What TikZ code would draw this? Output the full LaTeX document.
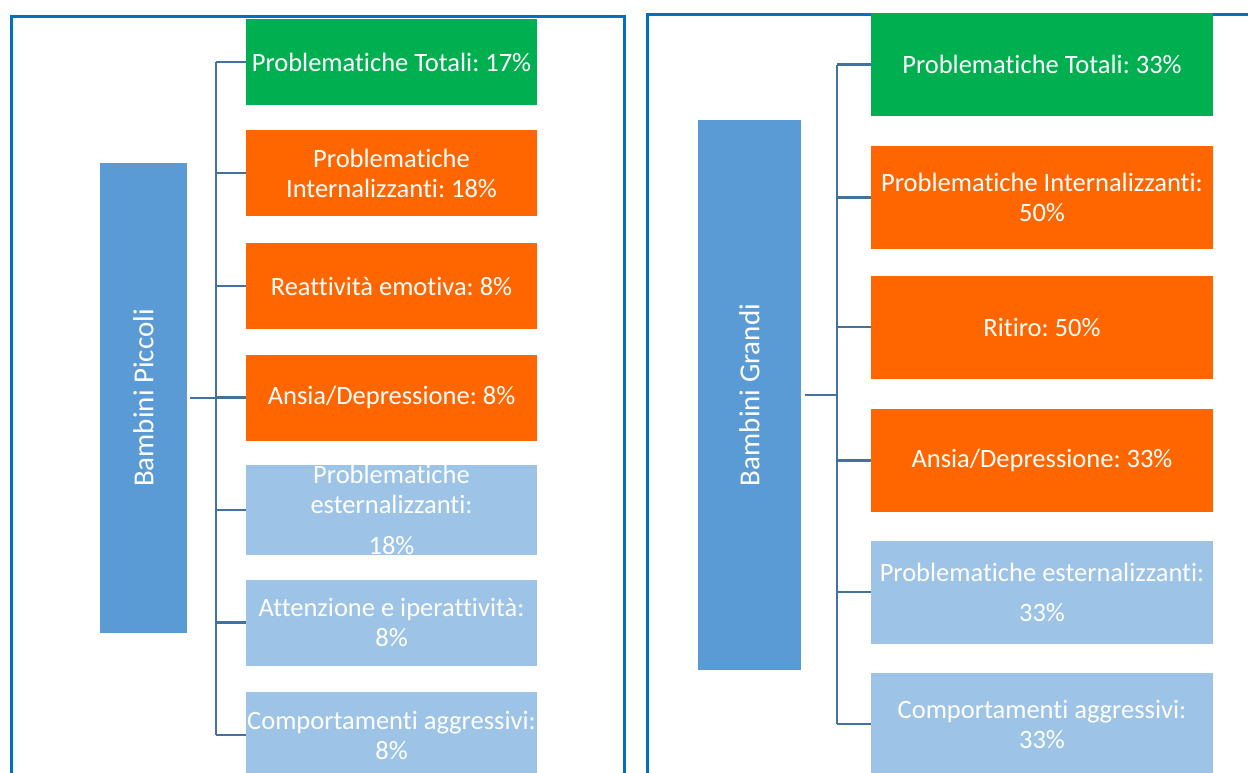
\documentclass[tikz,border=0pt]{standalone}
\usepackage{fontspec}
\setmainfont[Ligatures={NoCommon,NoContextual,NoRare}]{Carlito}
\frenchspacing
\definecolor{framecol}{RGB}{0,112,192}
\definecolor{boxgreen}{RGB}{0,176,80}
\definecolor{boxorange}{RGB}{255,102,0}
\definecolor{boxlight}{RGB}{157,195,230}
\definecolor{boxmain}{RGB}{91,155,213}
\definecolor{linkcol}{RGB}{68,114,160}
\begin{document}
\frenchspacing
\begin{tikzpicture}[x=1pt,y=-1pt,
  frame/.style={draw=framecol,line width=3pt},
  cbox/.style={rectangle,inner sep=0pt,outer sep=0pt,text=white,align=center,
    font=\fontsize{26.5}{30}\selectfont},
  lbox/.style={cbox,minimum width=291pt,minimum height=86pt},
  rbox/.style={cbox,minimum width=342pt,minimum height=103pt},
  mainbox/.style={cbox,fill=boxmain,font=\fontsize{29}{34}\selectfont},
  link/.style={draw=linkcol,line width=2.4pt}]
\useasboundingbox (0,0) rectangle (1248,772);
\clip (0,0) rectangle (1248,772);

% outer frames
\draw[frame] (11,790) -- (11,16) -- (624,16) -- (624,790);
\draw[frame] (647,790) -- (647,14) -- (1260,14);

% left group
\node[mainbox,minimum width=87pt,minimum height=470pt] (LP) at (143.5,398) {};
\node[mainbox,rotate=90] at (LP.center) {Bambini Piccoli};
\node[lbox,fill=boxgreen]  (L1) at (391.5,62)  {Problematiche Totali: 17\%};
\node[lbox,fill=boxorange] (L2) at (391.5,173)  {Problematiche\\Internalizzanti: 18\%};
\node[lbox,fill=boxorange] (L3) at (391.5,286)  {Reattività emotiva: 8\%};
\node[lbox,fill=boxorange] (L4) at (391.5,397.5) {Ansia/Depressione: 8\%};
\node[lbox,fill=boxlight]  (L5) at (391.5,510)  {Problematiche\\esternalizzanti:\\[11pt]18\%};
\node[lbox,fill=boxlight]  (L6) at (391.5,622.5) {Attenzione e iperattività:\\8\%};
\node[lbox,fill=boxlight]  (L7) at (391.5,735)  {Comportamenti aggressivi:\\8\%};

\coordinate (lbus) at (216,398);
\draw[link] ([xshift=3pt]LP.east) -- (lbus);
\draw[link] (L1.west -| lbus) -- (L7.west -| lbus);
\foreach \k in {1,...,7}
  \draw[link] (L\k.west -| lbus) -- (L\k.west);

% right group
\node[mainbox,minimum width=103pt,minimum height=550pt] (RG) at (749.5,395) {};
\node[mainbox,rotate=90] at (RG.center) {Bambini Grandi};
\node[rbox,fill=boxgreen]  (R1) at (1042,64.5)  {Problematiche Totali: 33\%};
\node[rbox,fill=boxorange] (R2) at (1042,197.5) {Problematiche Internalizzanti:\\50\%};
\node[rbox,fill=boxorange] (R3) at (1042,327)   {Ritiro: 50\%};
\node[rbox,fill=boxorange] (R4) at (1042,460.5) {Ansia/Depressione: 33\%};
\node[rbox,fill=boxlight]  (R5) at (1042,592)   {Problematiche esternalizzanti:\\[10pt]33\%};
\node[rbox,fill=boxlight]  (R6) at (1042,724)   {Comportamenti aggressivi:\\33\%};

\coordinate (rbus) at (837,395);
\draw[link] ([xshift=4pt]RG.east) -- (rbus);
\draw[link] (R1.west -| rbus) -- (R6.west -| rbus);
\foreach \k in {1,...,6}
  \draw[link] (R\k.west -| rbus) -- (R\k.west);
\end{tikzpicture}
\end{document}
